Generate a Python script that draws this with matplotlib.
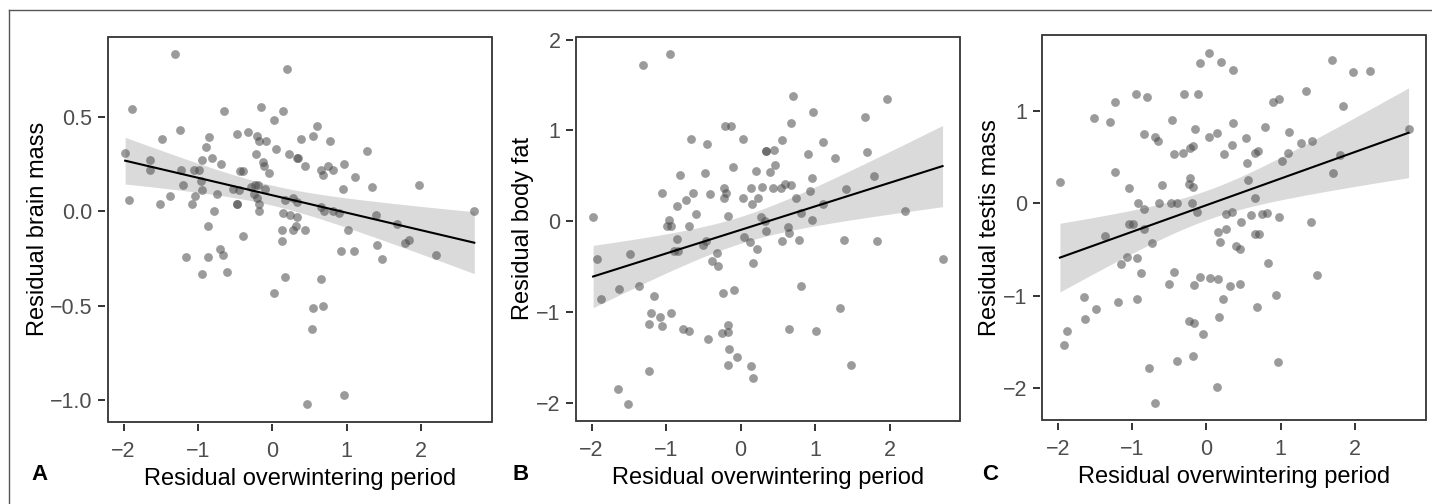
import numpy as np
import matplotlib
matplotlib.use("Agg")
import matplotlib.pyplot as plt
from matplotlib.patches import Rectangle
from matplotlib.lines import Line2D

plt.rcParams["font.family"] = ["Liberation Sans", "DejaVu Sans"]

# residual overwintering period vs residual trait, one pair of arrays per panel
brain_x = [-1.31, 0.20, -1.89, -0.65, -0.15, 0.15, 0.03, 0.60, -1.24, -0.48, -0.33, 0.55,
           -1.49, -0.85, -0.20, -0.18, -0.09, 0.39, 0.78, -0.89, 1.28, 0.05, -1.98, -0.22,
           0.22, 0.35, 0.34, -1.64, -0.95, -0.81, -0.69, -0.13, -0.11, 0.44, 0.65, 0.75,
           0.97, 0.82, -1.64, -1.23, -1.05, -0.99, -0.44, -0.39, -0.05, 0.68, 1.12, -0.96,
           -1.20, 1.97, 1.34, 0.95, -0.28, -0.23, -0.19, -0.10, -0.53, -0.45, -0.94, -0.25,
           -0.21, -0.74, -1.04, -1.38, -1.93, -1.51, -1.08, -0.48, -0.48, 0.17, 0.28, 0.34,
           -0.18, -0.18, -0.78, 0.14, 0.24, 0.65, 0.70, 0.82, 0.90, 2.72, 1.40, 0.34, -0.86,
           0.32, 1.68, 1.02, 0.13, 0.28, 0.44, -0.40, 0.13, 1.84, 1.79, 1.41, -0.70, -0.66,
           0.93, 1.10, -1.16, -0.86, 2.20, 1.48, -0.61, -0.94, 0.17, 0.65, 0.03, 0.55, 0.68,
           0.53, 0.97, 0.47]
brain_y = [0.83, 0.75, 0.54, 0.53, 0.55, 0.53, 0.48, 0.45, 0.43, 0.41, 0.42, 0.40,
           0.38, 0.39, 0.40, 0.37, 0.37, 0.38, 0.37, 0.34, 0.32, 0.33, 0.31, 0.30,
           0.30, 0.28, 0.28, 0.27, 0.27, 0.28, 0.25, 0.26, 0.24, 0.24, 0.22, 0.24,
           0.25, 0.22, 0.22, 0.22, 0.22, 0.22, 0.21, 0.21, 0.20, 0.19, 0.18, 0.16,
           0.14, 0.14, 0.13, 0.12, 0.13, 0.14, 0.14, 0.12, 0.12, 0.11, 0.11, 0.09,
           0.07, 0.09, 0.08, 0.08, 0.06, 0.04, 0.04, 0.04, 0.04, 0.06, 0.07, 0.05,
           0.04, 0.00, 0.00, -0.01, -0.02, 0.02, 0.00, 0.00, -0.01, 0.00, -0.02, -0.03, -0.08,
           -0.08, -0.07, -0.10, -0.10, -0.10, -0.10, -0.13, -0.16, -0.15, -0.17, -0.18, -0.20, -0.23,
           -0.21, -0.21, -0.24, -0.24, -0.23, -0.25, -0.32, -0.33, -0.35, -0.36, -0.43, -0.51, -0.50,
           -0.62, -0.97, -1.02]

fat_x = [-1.98, -1.93, -1.88, -1.63, -1.49, -1.37, -1.31, -0.95, -1.64, -1.51, -1.23, -1.16,
         -1.20, -1.23, -1.08, -1.05, -0.93, -1.05, -0.96, -0.99, -0.93, -0.85, -0.74, -0.81,
         -0.64, -0.60, -0.69, -0.67, -0.85, -0.89, -0.84, -0.78, -0.69, -0.45, -0.48, -0.41,
         -0.51, -0.47, -0.32, -0.39, -0.30, -0.44, -0.24, -0.09, -0.25, -0.17, -0.17, -0.15,
         -0.05, -0.17, 0.14, 0.17, -0.21, -0.13, 0.03, -0.10, -0.22, -0.19, -0.22, -0.17,
         0.03, 0.14, 0.15, 0.23, 0.28, 0.27, 0.05, 0.13, 0.22, 0.17, 0.70, 1.96, 0.97, 1.67,
         0.67, 1.11, 0.55, 0.34, 0.34, 0.45, 0.90, 1.70, 1.27, 0.46, 0.20, 0.39, 1.79, 0.96,
         0.43, 0.54, 0.59, 0.68, 1.41, 0.93, 0.74, 1.10, 0.33, 0.34, 0.81, 2.20, 0.64, 0.65,
         0.96, 0.55, 0.78, 1.39, 1.83, 2.71, 0.81, 1.34, 0.65, 1.01, 1.48]
fat_y = [0.04, -0.42, -0.86, -0.75, -0.36, -0.72, 1.72, 1.84, -1.85, -2.01, -1.65, -0.82,
         -1.01, -1.13, -1.06, -1.16, -1.01, 0.31, 0.01, -0.05, -0.05, 0.17, 0.23, 0.51,
         0.31, 0.08, -0.05, 0.91, -0.20, -0.33, -0.33, -1.19, -1.21, 0.85, 0.53, 0.30,
         -0.26, -0.22, -0.35, -0.44, -0.50, -1.30, -0.79, -0.76, -1.23, -1.22, -1.14, -1.41,
         -1.50, -1.59, -1.60, -1.73, 1.05, 1.05, 0.91, 0.60, 0.37, 0.31, 0.25, 0.06,
         0.25, 0.37, 0.19, 0.25, 0.38, 0.05, -0.17, -0.23, -0.31, -0.46, 1.38, 1.35, 1.20, 1.15,
         1.08, 0.87, 0.89, 0.77, 0.77, 0.78, 0.74, 0.76, 0.70, 0.62, 0.55, 0.54, 0.50, 0.47,
         0.36, 0.36, 0.41, 0.40, 0.35, 0.33, 0.25, 0.19, 0.00, -0.11, 0.09, 0.11, -0.07, -0.13,
         0.01, -0.22, -0.21, -0.21, -0.22, -0.42, -0.72, -0.96, -1.19, -1.21, -1.58]

testis_x = [-1.98, -1.93, -1.89, -1.64, -1.65, -1.49, -1.20, -1.52, -1.31, -1.23, -1.23, -1.37,
            -1.05, -1.16, -1.08, -0.95, -0.81, -0.93, -0.85, -1.05, -0.99, -0.84, -0.94, -0.89,
            -0.94, -0.74, -0.85, -0.70, -0.66, -0.60, -0.64, -0.48, -0.40, -0.47, -0.44, -0.32,
            -0.22, -0.18, -0.30, -0.11, -0.15, -0.09, 0.03, 0.20, 0.04, 0.14, 0.24, -0.22,
            -0.24, -0.18, -0.19, -0.13, -0.44, -0.51, -0.17, -0.09, 0.05, 0.16, 0.22, 0.17,
            -0.24, -0.17, -0.05, -0.40, -0.18, -0.78, -0.70, 0.14, 0.15, 0.18, 0.27, 0.27,
            0.32, 0.36, 1.69, 1.98, 2.21, 1.35, 0.90, 0.98, 1.84, 0.36, 0.79, 2.73, 0.54, 1.12,
            0.34, 0.66, 0.69, 0.55, 1.10, 1.02, 1.28, 1.42, 0.56, 1.80, 1.71, 0.65, 0.35, 0.47,
            0.60, 0.75, 0.82, 0.98, 1.41, 0.65, 0.71, 0.40, 0.45, 0.83, 1.49, 0.45, 0.68, 0.94,
            0.97]
testis_y = [0.23, -1.54, -1.38, -1.26, -1.02, -1.15, -1.07, 0.93, 0.88, 1.10, 0.34, -0.36,
            0.17, -0.66, -0.58, 1.18, 1.15, 0.00, -0.06, -0.22, -0.22, -0.28, -0.59, -0.76,
            -1.04, -0.43, 0.75, 0.72, 0.67, 0.20, 0.00, 0.00, 0.00, 0.90, 0.53, 0.54,
            0.60, 0.62, 1.18, 1.18, 0.81, 1.52, 1.63, 1.53, 0.72, 0.76, 0.53, 0.27,
            0.21, 0.18, 0.00, -0.09, -0.74, -0.88, -0.89, -0.80, -0.81, -0.82, -1.04, -1.23,
            -1.28, -1.30, -1.42, -1.71, -1.66, -1.79, -2.16, -1.99, -0.31, -0.42, -0.12, -0.28,
            -0.90, 1.44, 1.55, 1.42, 1.43, 1.22, 1.10, 1.13, 1.06, 0.87, 0.83, 0.81, 0.71, 0.77,
            0.63, 0.54, 0.57, 0.44, 0.55, 0.46, 0.65, 0.68, 0.25, 0.52, 0.33, 0.06, -0.09, -0.20,
            -0.13, -0.12, -0.11, -0.15, -0.20, -0.33, -0.33, -0.46, -0.50, -0.65, -0.78, -0.87, -1.12, -0.99,
            -1.72]

panels = [
    ("A", "Residual brain mass", brain_x, brain_y, [-1.0, -0.5, 0.0, 0.5], "{:.1f}"),
    ("B", "Residual body fat", fat_x, fat_y, [-2, -1, 0, 1, 2], "{:.0f}"),
    ("C", "Residual testis mass", testis_x, testis_y, [-2, -1, 0, 1], "{:.0f}"),
]
xticks = [-2, -1, 0, 1, 2]

# axes boxes in figure fractions
boxes = [(0.0752, 0.1633, 0.2682, 0.7639),
         (0.4020, 0.1647, 0.2684, 0.7625),
         (0.7280, 0.1667, 0.2678, 0.7629)]
letter_x = [40, 521, 990]

T975 = 1.98  # t quantile for ~110 df


def lm_band(x, y, grid):
    n = len(x)
    slope, icept = np.polyfit(x, y, 1)
    resid = y - (icept + slope * x)
    s = np.sqrt(np.sum(resid ** 2) / (n - 2))
    sxx = np.sum((x - x.mean()) ** 2)
    fit = icept + slope * grid
    se = s * np.sqrt(1 / n + (grid - x.mean()) ** 2 / sxx)
    return fit, fit - T975 * se, fit + T975 * se


fig = plt.figure(figsize=(14.32, 5.04), dpi=100)
W, H = 1432, 504

# outer frame (top and left edges)
fig.add_artist(Line2D([8.5 / W, 1.0], [1 - 10 / H, 1 - 10 / H], transform=fig.transFigure,
                      color="#555555", lw=1.0))
fig.add_artist(Line2D([8.5 / W, 8.5 / W], [0.0, 1 - 10 / H], transform=fig.transFigure,
                      color="#555555", lw=1.0))

for (letter, ylab, xs, ys, yticks, fmt), box, lx in zip(panels, boxes, letter_x):
    ax = fig.add_axes(box)
    x = np.array(xs)
    y = np.array(ys)
    grid = np.linspace(x.min(), x.max(), 100)
    fit, lo, hi = lm_band(x, y, grid)

    ax.fill_between(grid, lo, hi, color="#dadada", lw=0, zorder=1)
    ax.scatter(x, y, s=40, color="#4a4a4a", alpha=0.55, linewidths=0, zorder=2)
    ax.plot(grid, fit, color="black", lw=1.5, zorder=3)

    xr = x.max() - x.min()
    yr = y.max() - y.min()
    ax.set_xlim(x.min() - 0.05 * xr, x.max() + 0.05 * xr)
    ax.set_ylim(y.min() - 0.05 * yr, y.max() + 0.05 * yr)

    ax.set_xticks(xticks)
    ax.set_xticklabels([f"{t}".replace("-", "\u2212") for t in xticks])
    ax.set_yticks(yticks)
    ax.set_yticklabels([fmt.format(t).replace("-", "\u2212") for t in yticks])

    for side in ["top", "right", "bottom", "left"]:
        ax.spines[side].set_visible(False)
    ax.spines["bottom"].set_position(("outward", 2))
    ax.spines["left"].set_position(("outward", 2))
    ax.add_patch(Rectangle((0, 0), 1, 1, transform=ax.transAxes, fill=False,
                           edgecolor="#333333", lw=1.3, clip_on=False, zorder=5))
    ax.tick_params(length=5, width=1.4, color="#333333", labelcolor="#4d4d4d",
                   labelsize=15.5)
    ax.tick_params(axis="x", pad=7)
    ax.tick_params(axis="y", pad=4)

    ax.set_xlabel("Residual overwintering period", fontsize=17, color="black", labelpad=4)
    ax.set_ylabel(ylab, fontsize=17, color="black", labelpad=1)

    fig.text(lx / W, 1 - 474 / H, letter, fontsize=16, fontweight="bold",
             ha="center", va="center")

fig.savefig("out.png", dpi=100, facecolor="white")
